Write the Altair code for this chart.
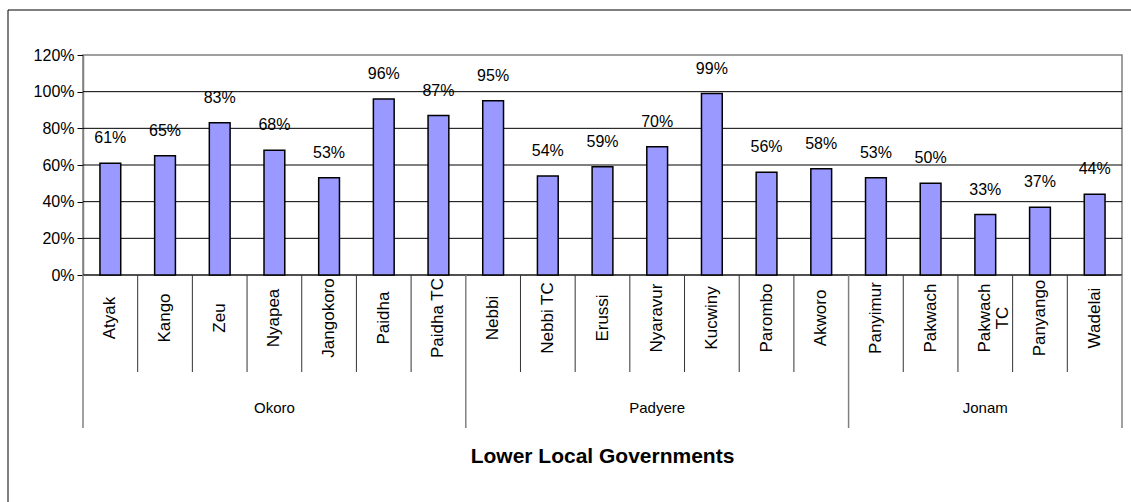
import altair as alt
import pandas as pd

names = ["Atyak", "Kango", "Zeu", "Nyapea", "Jangokoro", "Paidha", "Paidha TC",
         "Nebbi", "Nebbi TC", "Erussi", "Nyaravur", "Kucwiny", "Parombo", "Akworo",
         "Panyimur", "Pakwach", "Pakwach\nTC", "Panyango", "Wadelai"]
values = [0.61, 0.65, 0.83, 0.68, 0.53, 0.96, 0.87,
          0.95, 0.54, 0.59, 0.70, 0.99, 0.56, 0.58,
          0.53, 0.50, 0.33, 0.37, 0.44]
group_names = ["Okoro", "Padyere", "Jonam"]
group_sizes = [7, 7, 5]
y_ticks = [0, 0.2, 0.4, 0.6, 0.8, 1.0, 1.2]
grid_values = [0.2, 0.4, 0.6, 0.8, 1.0]

FONT = "Liberation Sans"

n = len(names)
df = pd.DataFrame({
    "idx": list(range(n)),
    "name": names,
    "value": values,
})
df["lo"] = df["idx"] + 0.31
df["hi"] = df["idx"] + 0.69
df["mid"] = df["idx"] + 0.5
df["label"] = [f"{round(v*100)}%" for v in values]

bounds = [0]
for s in group_sizes:
    bounds.append(bounds[-1] + s)
gdf = pd.DataFrame({
    "group": group_names,
    "center": [(bounds[i] + bounds[i + 1]) / 2 for i in range(len(group_names))],
})
inner_div = pd.DataFrame({"pos": [i for i in range(1, n) if i not in bounds]})
outer_div = pd.DataFrame({"pos": bounds})
grid_df = pd.DataFrame({"v": grid_values})

xs = alt.Scale(domain=[0, n], nice=False, zero=False)
ys = alt.Scale(domain=[0, 1.2], nice=False)

yaxis = alt.Axis(values=y_ticks, format=".0%", title=None, grid=False,
                 labelFont=FONT, labelFontSize=16, labelColor="black",
                 domainColor="#808080", domainWidth=1.5,
                 tickColor="black", tickSize=6, labelPadding=3)


def X(f):
    return alt.X(f, type="quantitative", scale=xs, axis=None)


def Y(f):
    return alt.Y(f, type="quantitative", scale=ys, axis=yaxis)


one = alt.Data(values=[{"a": 1}])

outer = alt.Chart(one).mark_rect(
    fill=None, stroke="black", strokeWidth=1
).encode(x=alt.value(-75), x2=alt.value(1052), y=alt.value(-45), y2=alt.value(449))

grid = alt.Chart(grid_df).mark_rule(color="black", strokeWidth=1).encode(
    y=Y("v"),
    x=alt.value(0), x2=alt.value(1039),
)

bars = alt.Chart(df).mark_bar(
    color="#9999FF", stroke="black", strokeWidth=1.5
).encode(
    x=X("lo"),
    x2="hi",
    y=Y("value"),
    y2=alt.datum(0),
)

zero_line = alt.Chart(one).mark_rule(color="black", strokeWidth=1.2).encode(
    x=alt.value(0), x2=alt.value(1039), y=alt.value(220)
)

vlabels = alt.Chart(df).mark_text(
    font=FONT, fontSize=16, color="black", baseline="alphabetic", dy=-20
).encode(
    x=X("mid"),
    y=Y("value"),
    text="label:N",
)

inner_rules = alt.Chart(inner_div).mark_rule(color="#333333", strokeWidth=1).encode(
    x=X("pos"), y=alt.value(220), y2=alt.value(317)
)
outer_rules = alt.Chart(outer_div).mark_rule(color="#808080", strokeWidth=1.5).encode(
    x=X("pos"), y=alt.value(220), y2=alt.value(373)
)

cat_labels = alt.Chart(df).mark_text(
    font=FONT, fontSize=17, color="black", angle=270, align="center",
    baseline="middle", lineBreak="\n", lineHeight=18
).encode(
    x=X("mid"),
    y=alt.value(263),
    text="name:N",
)

grp_labels = alt.Chart(gdf).mark_text(
    font=FONT, fontSize=15, color="black", baseline="middle"
).encode(
    x=X("center"),
    y=alt.value(353),
    text="group:N",
)

title = alt.Chart(alt.Data(values=[{"t": "Lower Local Governments"}])).mark_text(
    font=FONT, fontSize=21, fontWeight="bold", color="black", baseline="middle"
).encode(
    x=alt.value(519.5), y=alt.value(402), text="t:N"
)

chart = alt.layer(
    outer, grid, zero_line, bars, vlabels, inner_rules, outer_rules,
    cat_labels, grp_labels, title
).properties(
    width=1039, height=220,
    autosize=alt.AutoSizeParams(type="none"),
    padding={"left": 83, "top": 55, "right": 9, "bottom": 227},
    background="white",
).configure_view(stroke="#808080", strokeWidth=1.5)

chart.save("out.html", embed_options={"renderer": "svg", "actions": False})
